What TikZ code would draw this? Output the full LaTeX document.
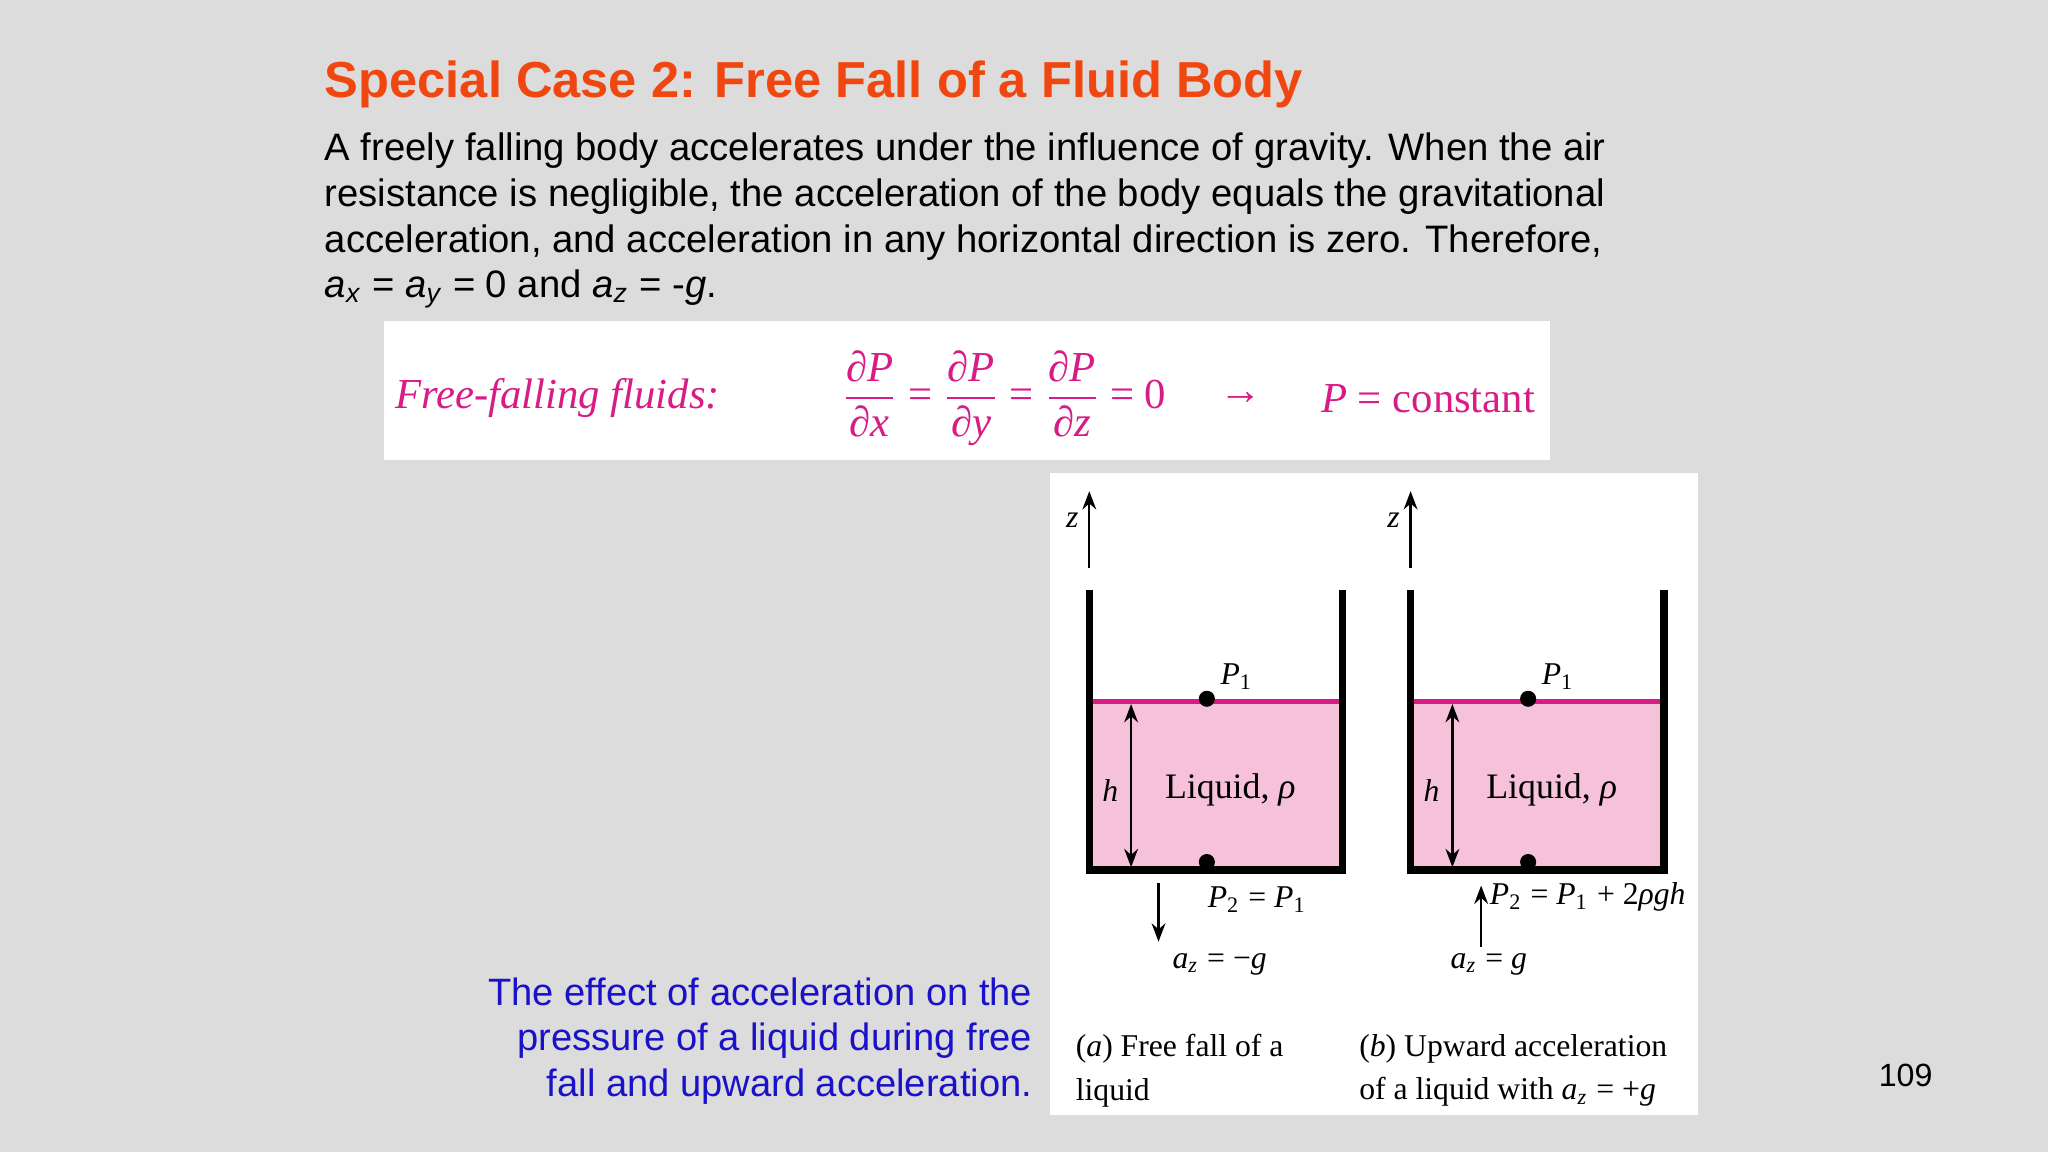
\documentclass[tikz,border=0pt]{standalone}
\usepackage{amsmath}
\usepackage{fontspec}
\setmainfont{Liberation Sans}
\newfontfamily\serif{Liberation Serif}
\usetikzlibrary{arrows.meta}
\definecolor{bg}{HTML}{DCDCDC}
\definecolor{ttl}{HTML}{F0460F}
\definecolor{mag}{HTML}{D81B85}
\definecolor{liq}{HTML}{F5C2DA}
\definecolor{blu}{HTML}{1A12C8}
\newcommand{\ii}[1]{\textit{#1}}
\newcommand{\sbs}[1]{\textsubscript{#1}}
\newcommand{\pd}[1]{\dfrac{\text{\serif ∂\textit{P}}}{\text{\serif ∂\textit{#1}}}}
\newcommand{\eqq}{\mskip4mu\text{\serif =}\mskip4mu}
\tikzset{
  lbl/.style={font=\serif\fontsize{6.9}{8}\selectfont, inner sep=0pt},
  wall/.style={line width=1.6pt, black},
  arr/.style={-{Stealth[length=4pt,width=3pt]}, line width=0.5pt},
  darr/.style={{Stealth[length=4pt,width=3pt]}-{Stealth[length=4pt,width=3pt]}, line width=0.5pt},
  dot/.style={circle, fill=black, inner sep=0pt, minimum size=3.5pt},
  body/.style={font=\fontsize{8.33}{9.96}\selectfont, anchor=base west, inner sep=0pt}
}
\begin{document}
\begin{tikzpicture}[x=0.01cm,y=-0.01cm]
\fill[bg] (0,0) rectangle (1568,882);
\node[anchor=base west, inner sep=0pt, text=ttl, font=\bfseries\fontsize{11.02}{12}\selectfont] (title) at (248,75) {Special Case 2: Free Fall of a Fluid Body};
\node[body] (l1) at (248,123) {A freely falling body accelerates under the influence of gravity. When the air};
\node[body] (l2) at (248,158) {resistance is negligible, the acceleration of the body equals the gravitational};
\node[body] (l3) at (248,193) {acceleration, and acceleration in any horizontal direction is zero. Therefore,};
\node[body] (l4) at (248,228) {\textit{a\textsubscript{x}} = \textit{a\textsubscript{y}} = 0 and \textit{a\textsubscript{z}} = -\textit{g}.};
% formula box
\fill[white] (294,246) rectangle (1187,352);
\node[anchor=west, inner sep=0pt, text=mag, font=\serif\itshape\fontsize{9.3}{11}\selectfont] (ff) at (302,305) {Free-falling fluids:};
\node[anchor=west, inner sep=0pt, text=mag, font=\serif\fontsize{9.3}{11}\selectfont] (eq) at (643,305)
 {$\pd{x}\eqq\pd{y}\eqq\pd{z}\eqq\text{\serif 0}$};
\node[inner sep=0pt, text=mag, font=\serif\fontsize{9.3}{11}\selectfont] (ar) at (950,305) {→};
\node[anchor=east, inner sep=0pt, text=mag, font=\serif\fontsize{9.3}{11}\selectfont] (cst) at (1176,305) {\ii{P} = constant};
% figure panel
\fill[white] (804,362) rectangle (1300,854);
\foreach \X/\n in {834/a,1080/b}{
  \fill[liq] (\X,537) rectangle ({\X+194},665);
  \draw[mag, line width=1.2pt] (\X,537) -- ({\X+194},537);
  \draw[wall] (\X,452) -- (\X,666) -- ({\X+194},666) -- ({\X+194},452);
  \coordinate (zb\n) at (\X,435); \coordinate (zt\n) at (\X,376);
  \draw[arr] (zb\n) -- (zt\n);
  \node[lbl] (z\n) at ({\X-13},398) {\ii{z}};
  \node[dot] (p1\n) at ({\X+90},535) {};
  \node[dot] (p2\n) at ({\X+90},660) {};
  \node[lbl] (p1l\n) at ({\X+113},518) {\ii{P}\sbs{1}};
  \coordinate (ht\n) at ({\X+32},539); \coordinate (hb\n) at ({\X+32},664);
  \draw[darr] (ht\n) -- (hb\n);
  \node[lbl] (h\n) at ({\X+16},605) {\ii{h}};
  \node[lbl, font=\serif\fontsize{7.8}{9}\selectfont] (liq\n) at ({\X+108},605) {Liquid, \ii{ρ}};
}
\node[lbl, anchor=west] (p2la) at (924,689) {\ii{P}\sbs{2} = \ii{P}\sbs{1}};
\coordinate (da1) at (887,676); \coordinate (da2) at (887,721);
\draw[arr] (da1) -- (da2);
\node[lbl, anchor=west] (aza) at (897,738) {\ii{a\sbs{z}} = −\ii{g}};
\node[lbl, anchor=west] (p2lb) at (1140,687) {\ii{P}\sbs{2} = \ii{P}\sbs{1} + 2\ii{ρgh}};
\coordinate (ua1) at (1134,725); \coordinate (ua2) at (1134,678);
\draw[arr] (ua1) -- (ua2);
\node[lbl, anchor=west] (azb) at (1110,738) {\ii{a\sbs{z}} = \ii{g}};
\node[lbl, anchor=north west, align=left] (capa) at (823,791) {(\textit{a}) Free fall of a\\[1.5pt]liquid};
\node[lbl, anchor=north west, align=left] (capb) at (1040,791) {(\textit{b}) Upward acceleration\\[1.5pt]of a liquid with \ii{a\sbs{z}} = +\ii{g}};
% blue caption
\node[anchor=east, align=right, inner sep=0pt, text=blu, font=\fontsize{8.3}{9.96}\selectfont] (blue) at (791,797)
 {The effect of acceleration on the\\pressure of a liquid during free\\fall and upward acceleration.};
\node[inner sep=0pt, font=\fontsize{7}{8}\selectfont] (pg) at (1459,823) {109};
\end{tikzpicture}
\end{document}
